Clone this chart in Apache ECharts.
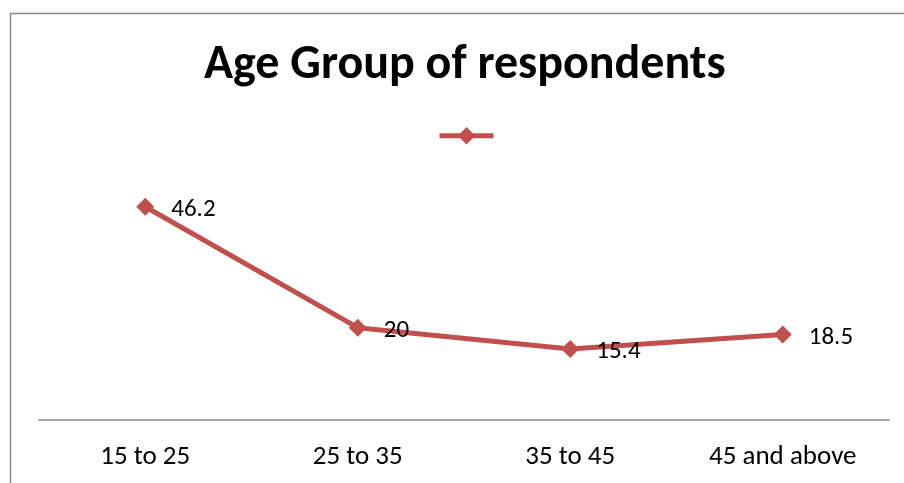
<!DOCTYPE html>
<html>
<head>
<meta charset="utf-8">
<script src="https://cdn.jsdelivr.net/npm/echarts@6/dist/echarts.min.js"></script>
<style>
html,body{margin:0;padding:0;background:#fff;}
#chart{width:904px;height:483px;}
</style>
</head>
<body>
<div id="chart"></div>
<script>
// Age groups and share of respondents (%)
const categories = ['15 to 25', '25 to 35', '35 to 45', '45 and above'];
const values = [46.2, 20, 15.4, 18.5];
const titleText = 'Age Group of respondents';

const FONT = 'Carlito, Lato, "Open Sans", sans-serif';
const RED = '#C0504D';

const chart = echarts.init(document.getElementById('chart'), null, {renderer: 'canvas'});
chart.setOption({
  backgroundColor: '#fff',
  animation: false,
  title: {
    text: titleText,
    left: 199,
    top: 37,
    textStyle: {fontFamily: FONT, fontWeight: 'bold', fontSize: 48, color: '#000'}
  },
  legend: {
    show: true,
    top: 122,
    left: 432,
    itemWidth: 54,
    itemHeight: 22,
    itemGap: 0,
    data: [' '],
    lineStyle: {width: 5, color: RED},
    itemStyle: {color: RED},
    textStyle: {fontSize: 1, padding: 0}
  },
  grid: {left: 39, right: 15, top: 143, bottom: 63},
  xAxis: {
    type: 'category',
    data: categories,
    boundaryGap: true,
    axisLine: {lineStyle: {color: '#878787', width: 1.5}},
    axisTick: {show: false},
    axisLabel: {fontFamily: FONT, fontSize: 27, color: '#000', margin: 24}
  },
  yAxis: {
    type: 'value',
    min: 0,
    max: 60,
    show: false,
    splitLine: {show: false}
  },
  series: [{
    name: ' ',
    type: 'line',
    data: values,
    symbol: 'diamond',
    symbolSize: 18,
    itemStyle: {color: RED},
    lineStyle: {color: RED, width: 5},
    label: {
      show: true,
      position: 'right',
      distance: 17,
      offset: [0, 3],
      fontFamily: FONT,
      fontSize: 25,
      color: '#000'
    }
  }],
  graphic: [{
    type: 'rect',
    shape: {x: 10.5, y: 13.5, width: 1000, height: 1000},
    style: {fill: 'none', stroke: '#888', lineWidth: 1.5},
    silent: true
  }]
});
</script>
</body>
</html>
